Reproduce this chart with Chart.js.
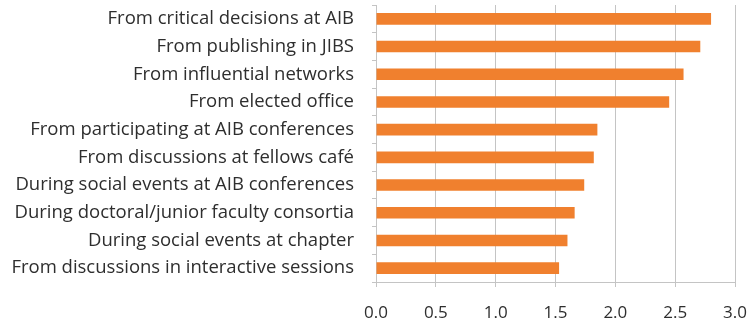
<!DOCTYPE html>
<html>
<head>
<meta charset="utf-8">
<script src="https://cdn.jsdelivr.net/npm/chart.js@4"></script>
<style>
  html, body { margin: 0; padding: 0; background: #fff; }
  #wrap { width: 749px; height: 324px; }
</style>
</head>
<body>
<div id="wrap"><canvas id="chart" width="749" height="324"></canvas></div>
<script>
var categories = [
    "From critical decisions at AIB",
    "From publishing in JIBS",
    "From influential networks",
    "From elected office",
    "From participating at AIB conferences",
    "From discussions at fellows café",
    "During social events at AIB conferences",
    "During doctoral/junior faculty consortia",
    "During social events at chapter",
    "From discussions in interactive sessions"
];
var scores = [2.80, 2.71, 2.57, 2.45, 1.85, 1.82, 1.74, 1.66, 1.60, 1.53];
var xTicks = [0, 0.5, 1, 1.5, 2, 2.5, 3];

var orange = "#f0802e";
var gridGrey = "#c4c4c4";
var fontFamily = "'Open Sans', 'Liberation Sans', sans-serif";

var ctx = document.getElementById("chart");
var chart = new Chart(ctx, {
    type: "bar",
    data: {
        labels: categories,
        datasets: [{
            data: scores,
            backgroundColor: orange,
            borderWidth: 0,
            categoryPercentage: 1,
            barPercentage: 0.42
        }]
    },
    options: {
        indexAxis: "y",
        responsive: false,
        animation: false,
        layout: { padding: { top: 5, right: 14, bottom: 0, left: 0 } },
        plugins: { legend: { display: false }, tooltip: { enabled: false } },
        scales: {
            x: {
                min: xTicks[0],
                max: xTicks[xTicks.length - 1],
                afterBuildTicks: function (axis) {
                    axis.ticks = xTicks.map(function (v) { return { value: v }; });
                },
                grid: { color: gridGrey, lineWidth: 1, tickLength: 5, tickColor: gridGrey },
                border: { color: gridGrey },
                ticks: {
                    color: "#2e2e2e",
                    padding: 16,
                    font: { family: fontFamily, size: 17 },
                    callback: function (v) { return Number(v).toFixed(1); }
                },
                afterFit: function (axis) {
                    axis.height = 42;
                    axis.paddingLeft = 0;
                    axis.paddingRight = 0;
                }
            },
            y: {
                offset: true,
                grid: { display: true, drawOnChartArea: false, tickLength: 4, tickColor: gridGrey, offset: true },
                border: { color: gridGrey },
                ticks: {
                    color: "#2e2e2e",
                    padding: 18,
                    autoSkip: false,
                    font: { family: fontFamily, size: 18.5 }
                },
                afterFit: function (axis) {
                    axis.width = 376;
                    axis.paddingTop = 0;
                    axis.paddingBottom = 0;
                }
            }
        }
    }
});
</script>
</body>
</html>
